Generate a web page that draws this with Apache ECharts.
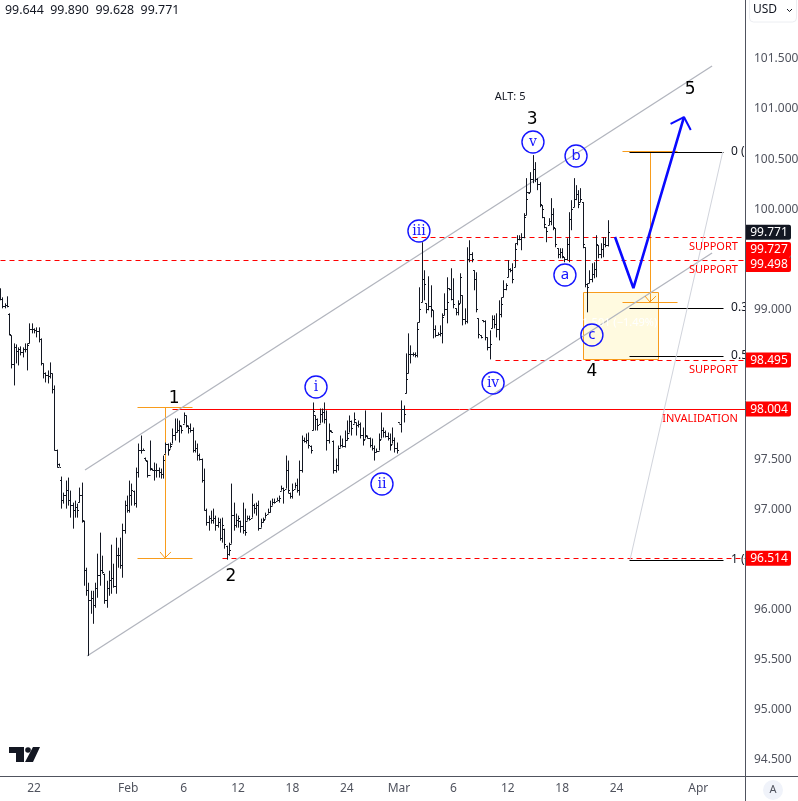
<!DOCTYPE html>
<html>
<head>
<meta charset="utf-8">
<title>DXY</title>
<script src="https://cdn.jsdelivr.net/npm/echarts@6/dist/echarts.min.js"></script>
<style>
html, body { margin: 0; padding: 0; background: #fff; }
#chart { width: 798px; height: 801px; }
</style>
</head>
<body>
<div id="chart"></div>
<script>
const FONT = '"Noto Sans", sans-serif';

// 4h bars
const barOpen = [
  99.18,99.10,99.03,99.04,98.95,98.74,98.45,98.62,98.58,98.60,
  98.57,98.60,98.60,98.66,98.80,98.80,98.79,98.78,98.70,98.46,
  98.36,98.34,98.33,98.36,98.20,97.60,97.46,97.30,97.10,97.15,
  97.20,97.10,97.05,97.00,97.03,97.08,97.15,96.89,96.40,96.20,
  96.10,96.12,96.05,96.22,96.35,96.40,96.36,96.10,96.22,96.30,
  96.32,96.24,96.55,96.55,96.45,96.80,97.05,97.00,97.15,97.19,
  97.07,97.38,97.60,97.60,97.52,97.49,97.35,97.41,97.40,97.40,
  97.40,97.38,97.36,97.56,97.66,97.61,97.66,97.75,97.78,97.80,
  97.84,97.86,97.94,97.84,97.82,97.80,97.60,97.62,97.55,97.51,
  97.30,97.00,96.88,96.92,96.90,96.92,96.85,96.88,96.72,96.81,
  96.64,96.56,96.66,96.95,96.85,96.90,96.89,96.84,96.80,96.89,
  96.92,96.92,97.05,97.02,97.05,96.82,96.88,96.91,96.96,96.98,
  97.04,97.08,97.09,97.10,97.19,97.22,97.21,97.40,97.17,97.14,
  97.21,97.25,97.20,97.40,97.70,97.69,97.70,97.64,97.80,97.94,
  97.90,97.86,97.95,97.97,97.90,97.70,97.79,97.69,97.40,97.45,
  97.62,97.65,97.64,97.70,97.77,97.88,97.86,97.87,97.85,97.86,
  97.75,97.71,97.74,97.72,97.65,97.62,97.58,97.59,97.71,97.80,
  97.78,97.74,97.72,97.66,97.70,97.62,97.87,97.86,98.00,98.16,
  98.36,98.55,98.55,98.55,98.54,98.87,99.07,99.30,99.06,99.00,
  99.03,98.99,98.80,98.74,98.75,98.76,98.94,99.00,99.21,99.20,
  99.10,99.01,98.97,99.06,99.14,98.90,98.88,99.50,99.55,99.39,
  99.30,98.91,98.74,98.89,98.88,98.72,98.62,98.81,98.90,98.85,
  98.80,98.95,99.12,99.20,99.32,99.40,99.39,99.42,99.66,99.70,
  99.70,99.72,99.94,100.17,100.17,100.30,100.40,100.30,100.25,100.04,
  99.92,99.82,99.84,99.88,99.95,99.81,99.61,99.55,99.57,99.52,
  99.50,99.65,99.90,100.02,100.10,100.15,100.07,100.07,99.62,99.25,
  99.26,99.30,99.35,99.40,99.64,99.55,99.60,99.65,99.644
];
const barHigh = [
  99.21,99.12,99.06,99.13,98.96,98.74,98.66,98.65,98.62,98.63,
  98.62,98.66,98.66,98.86,98.86,98.81,98.82,98.82,98.71,98.46,
  98.37,98.39,98.47,98.36,98.24,97.60,97.46,97.33,97.17,97.29,
  97.32,97.19,97.07,97.09,97.06,97.22,97.27,96.89,96.42,96.27,
  96.19,96.19,96.27,96.56,96.77,96.54,96.36,96.29,96.39,96.65,
  96.46,96.72,96.62,96.72,96.86,97.09,97.14,97.29,97.26,97.19,
  97.42,97.66,97.74,97.61,97.52,97.49,97.69,97.41,97.47,97.46,
  97.42,97.41,97.54,97.67,97.66,97.67,97.81,97.91,97.91,97.89,
  97.84,97.97,97.94,97.84,97.86,97.82,97.69,97.66,97.56,97.51,
  97.41,97.01,96.94,96.99,97.01,96.94,96.92,96.91,96.92,96.81,
  96.64,96.67,97.26,97.07,96.96,96.94,96.89,97.07,97.01,96.94,
  96.94,97.16,97.06,97.07,97.09,96.91,96.92,96.97,97.01,97.09,
  97.11,97.11,97.12,97.14,97.24,97.22,97.54,97.49,97.17,97.26,
  97.27,97.31,97.49,97.74,97.72,97.76,97.77,97.64,98.07,97.94,
  97.91,98.01,98.01,98.07,97.99,97.86,97.79,97.69,97.51,97.64,
  97.74,97.71,97.79,97.89,97.94,97.89,97.97,97.87,97.89,97.87,
  97.82,97.99,97.74,97.72,97.71,97.64,97.61,97.76,97.97,97.82,
  97.79,97.77,97.76,97.82,97.72,97.67,97.87,98.09,98.04,98.56,
  98.76,98.64,98.57,98.57,98.87,99.22,99.67,99.39,99.06,99.33,
  99.24,98.99,98.84,98.77,98.84,98.96,99.16,99.32,99.21,99.41,
  99.31,99.01,99.09,99.36,99.14,99.01,99.62,99.69,99.57,99.39,
  99.37,98.91,98.74,98.89,98.89,98.72,98.79,98.94,98.94,98.96,
  99.09,99.12,99.29,99.26,99.49,99.41,99.46,99.66,99.74,99.74,
  99.76,99.96,100.31,100.17,100.37,100.54,100.47,100.31,100.27,100.04,
  99.92,99.82,99.91,100.11,100.01,99.81,99.61,99.61,99.61,99.52,
  99.71,99.97,100.09,100.31,100.24,100.19,100.21,100.07,99.62,99.26,
  99.39,99.46,99.47,99.74,99.64,99.66,99.72,99.72,99.89
];
const barLow = [
  99.09,99.01,99.01,99.02,98.74,98.41,98.24,98.46,98.44,98.54,
  98.52,98.57,98.39,98.66,98.76,98.76,98.72,98.67,98.44,98.31,
  98.27,98.26,98.31,98.16,97.59,97.42,97.43,97.01,97.06,97.01,
  97.04,96.92,96.81,96.92,96.92,97.07,96.87,96.24,96.14,95.54,
  95.96,95.86,96.02,96.12,96.24,96.36,96.06,96.02,96.14,96.16,
  96.22,96.16,96.42,96.41,96.32,96.76,96.97,96.97,97.04,97.04,
  97.02,97.32,97.56,97.59,97.49,97.32,97.39,97.39,97.29,97.32,
  97.32,97.31,97.31,97.56,97.54,97.61,97.66,97.69,97.77,97.67,
  97.76,97.86,97.82,97.76,97.77,97.57,97.57,97.49,97.49,97.27,
  96.99,96.84,96.79,96.86,96.86,96.79,96.82,96.69,96.67,96.61,
  96.50,96.54,96.66,96.79,96.82,96.82,96.77,96.76,96.74,96.89,
  96.89,96.92,96.96,96.94,96.79,96.82,96.87,96.91,96.96,96.97,
  97.04,97.06,97.09,97.07,97.19,97.06,97.21,97.16,97.11,97.11,
  97.21,97.17,97.14,97.37,97.67,97.66,97.61,97.56,97.79,97.79,
  97.79,97.86,97.87,97.86,97.59,97.66,97.77,97.36,97.37,97.39,
  97.62,97.62,97.62,97.69,97.77,97.74,97.86,97.74,97.82,97.71,
  97.64,97.71,97.71,97.62,97.59,97.49,97.57,97.59,97.71,97.72,
  97.72,97.69,97.59,97.66,97.57,97.56,97.86,97.77,97.87,98.16,
  98.36,98.46,98.53,98.52,98.52,98.87,99.07,99.09,98.96,98.99,
  98.92,98.71,98.72,98.74,98.73,98.66,98.94,98.86,99.19,99.09,
  99.01,98.94,98.94,99.06,98.84,98.85,98.86,99.47,99.47,99.19,
  98.97,98.71,98.71,98.87,98.69,98.59,98.50,98.81,98.81,98.72,
  98.69,98.92,99.12,99.19,99.32,99.37,99.26,99.42,99.64,99.69,
  99.59,99.71,99.94,100.16,100.17,100.26,100.27,100.19,100.02,99.91,
  99.81,99.67,99.84,99.84,99.79,99.62,99.51,99.51,99.51,99.47,
  99.49,99.47,99.79,100.02,100.09,100.01,100.07,99.61,99.22,98.97,
  99.26,99.27,99.31,99.32,99.51,99.51,99.52,99.62,99.628
];
const barClose = [
  99.10,99.03,99.04,99.03,98.75,98.45,98.62,98.58,98.60,98.57,
  98.60,98.60,98.64,98.80,98.80,98.79,98.78,98.70,98.46,98.36,
  98.34,98.33,98.36,98.20,97.60,97.43,97.43,97.10,97.15,97.20,
  97.10,97.05,97.00,97.03,97.00,97.15,96.90,96.40,96.20,96.10,
  96.12,96.05,96.22,96.35,96.40,96.38,96.10,96.22,96.30,96.32,
  96.24,96.55,96.55,96.45,96.80,97.05,97.00,97.15,97.20,97.07,
  97.38,97.60,97.60,97.60,97.50,97.35,97.42,97.40,97.40,97.40,
  97.38,97.36,97.50,97.66,97.60,97.64,97.75,97.78,97.80,97.85,
  97.80,97.94,97.85,97.82,97.80,97.60,97.62,97.55,97.51,97.30,
  97.00,96.88,96.92,96.90,96.92,96.85,96.88,96.72,96.85,96.66,
  96.56,96.60,96.95,96.85,96.90,96.92,96.84,96.80,96.78,96.92,
  96.91,97.05,97.02,97.05,96.82,96.88,96.90,96.95,96.98,97.04,
  97.08,97.08,97.10,97.12,97.22,97.20,97.40,97.20,97.14,97.20,
  97.25,97.20,97.40,97.70,97.69,97.70,97.65,97.60,97.98,97.90,
  97.85,97.95,97.97,97.90,97.70,97.80,97.78,97.40,97.45,97.62,
  97.65,97.64,97.70,97.72,97.88,97.82,97.90,97.85,97.86,97.75,
  97.70,97.75,97.72,97.65,97.62,97.58,97.59,97.70,97.80,97.78,
  97.74,97.72,97.65,97.70,97.62,97.60,97.86,98.00,97.95,98.30,
  98.55,98.55,98.55,98.54,98.80,99.00,99.30,99.25,99.00,99.03,
  99.00,98.80,98.74,98.75,98.76,98.92,99.00,99.07,99.20,99.10,
  99.05,98.97,99.05,99.32,98.90,98.88,99.50,99.55,99.50,99.30,
  99.00,98.75,98.72,98.88,98.72,98.62,98.65,98.90,98.85,98.80,
  98.95,99.05,99.20,99.24,99.40,99.39,99.30,99.60,99.70,99.70,
  99.72,99.92,100.10,100.16,100.30,100.40,100.30,100.25,100.05,100.00,
  99.85,99.78,99.88,99.95,99.82,99.65,99.55,99.57,99.53,99.50,
  99.65,99.90,100.00,100.10,100.15,100.05,100.10,99.65,99.25,99.22,
  99.30,99.35,99.40,99.65,99.55,99.60,99.65,99.64,99.771
];

const xTickBars = [15, 56.5, 81, 105, 129, 153, 176, 200, 224, 248, 272, 308];
const xTickLabels = ['22', 'Feb', '6', '12', '18', '24', 'Mar', '6', '12', '18', '24', 'Apr'];
const yTicks = [94.5, 95, 95.5, 96, 96.5, 97, 97.5, 98, 98.5, 99, 99.5, 100, 100.5, 101, 101.5];
const X_MAX = 329.07;

// drawings, [bar number, price]
const channelUpper = [[37.5, 97.396], [314.1, 101.43]];
const channelLower = [[38.4, 95.538], [314.1, 99.563]];
const fibDiagonal = [[277.9, 96.497], [318.8, 100.571]];
const fibLevels = [100.571, 99.013, 98.534, 96.497];
const fibTexts = ['0 (100.571)', '0.382 (99.013)', '0.5 (98.534)', '1 (96.497)'];
const forecastPath = [[271.3, 99.722], [279.4, 99.213], [301.7, 100.92]];
const forecastHead = [[295.8, 100.851], [301.7, 100.92], [304.7, 100.791]];
// [x1, price1, x2, price2]
const measureLeft = [[60.4, 98.025, 84.7, 98.025], [72.8, 98.025, 72.8, 96.517], [60.4, 96.517, 84.7, 96.517]];
const measureLeftHead = [[70.6, 96.577], [72.8, 96.517], [75.4, 96.577]];
const measureRight = [[274.4, 100.581, 298.6, 100.581], [286.7, 100.581, 286.7, 99.073], [274.4, 99.073, 298.6, 99.073]];
const measureRightHead = [[284.5, 99.133], [286.7, 99.073], [289.4, 99.133]];
const supportBox = [257.2, 99.173, 290.3, 98.504];
const dashedLevels = [[181.7, 99.727], [0, 99.49], [218.4, 98.495], [98, 96.52]];
const invalidation = [75.9, 98.004];

const romanWaves = [['iii', 184.8, 99.782], ['v', 235.1, 100.671], ['iv', 217.5, 98.264], ['i', 139.4, 98.224], ['ii', 168.5, 97.256]];
const letterWaves = [['b', 254.1, 100.531], ['a', 249.2, 99.343], ['c', 261.1, 98.744]];
const mainWaves = [['1', 76.8, 98.105], ['2', 101.9, 96.327], ['3', 234.7, 100.891], ['4', 261.1, 98.374], ['5', 304.4, 101.19]];
const redNotes = [['SUPPORT', 99.62], ['SUPPORT', 99.393], ['SUPPORT', 98.394], ['INVALIDATION', 97.905]];

const tagValues = [99.771, 99.727, 99.498, 98.495, 98.004, 96.514];
const tagOffsets = [0, 13, 5, 0, 0, 0];
const tagColors = ['#131722', '#ff0000', '#ff0000', '#ff0000', '#ff0000', '#ff0000'];

const crisp = v => Math.round(v) + 0.5;

function lineSeries (data, color, width, z) {
  return {
    type: 'line',
    data,
    symbol: 'none',
    silent: true,
    z: z || 2,
    lineStyle: { color, width }
  };
}

function segmentSeries (segments, color, dash) {
  return {
    type: 'custom',
    silent: true,
    z: 2,
    data: segments,
    encode: { x: [0, 2], y: [1, 3] },
    renderItem: (params, api) => {
      const a = api.coord([api.value(0), api.value(1)]);
      const b = api.coord([api.value(2), api.value(3)]);
      return {
        type: 'line',
        shape: { x1: crisp(a[0]), y1: crisp(a[1]), x2: crisp(b[0]), y2: crisp(b[1]) },
        style: { stroke: color, lineWidth: 1, lineDash: dash || null, fill: null }
      };
    }
  };
}

function textSeries (rows, color, size, family, align) {
  return {
    type: 'scatter',
    symbolSize: 0,
    silent: true,
    z: 2,
    itemStyle: { opacity: 1 },
    data: rows.map(r => ({ name: r[0], value: [r[1], r[2]] })),
    label: {
      show: true,
      position: 'inside',
      align: align || 'center',
      verticalAlign: 'middle',
      formatter: '{b}',
      color,
      fontSize: size,
      fontFamily: family || FONT
    }
  };
}

function circleSeries (rows, family, size) {
  return {
    type: 'scatter',
    symbol: 'circle',
    symbolSize: 22,
    silent: true,
    z: 4,
    itemStyle: { color: 'rgba(255,255,255,0)', borderColor: '#1414ff', borderWidth: 1.4, opacity: 1 },
    data: rows.map(r => ({ name: r[0], value: [r[1], r[2]] })),
    label: {
      show: true,
      position: 'inside',
      formatter: '{b}',
      color: '#1414ff',
      fontSize: size,
      fontFamily: family
    }
  };
}

const renderBar = (params, api) => {
  const i = api.value(0);
  const x = crisp(api.coord([i, 0])[0]);
  const yo = crisp(api.coord([i, api.value(1)])[1]);
  const yh = api.coord([i, api.value(2)])[1];
  const yl = api.coord([i, api.value(3)])[1];
  const yc = crisp(api.coord([i, api.value(4)])[1]);
  const style = { stroke: '#131722', lineWidth: 1, fill: null };
  return {
    type: 'group',
    children: [
      { type: 'line', shape: { x1: x, y1: yh, x2: x, y2: yl }, style },
      { type: 'line', shape: { x1: x - 1.5, y1: yo, x2: x, y2: yo }, style },
      { type: 'line', shape: { x1: x, y1: yc, x2: x + 1.5, y2: yc }, style }
    ]
  };
};

const renderBox = (params, api) => {
  const a = api.coord([api.value(0), api.value(1)]);
  const b = api.coord([api.value(2), api.value(3)]);
  const x = crisp(a[0]);
  const y = crisp(a[1]);
  return {
    type: 'rect',
    shape: { x, y, width: crisp(b[0]) - x, height: crisp(b[1]) - y },
    style: { fill: '#fffae0', stroke: '#f89c1c', lineWidth: 1 }
  };
};

const renderTag = (params, api) => {
  const left = api.coord([X_MAX, 0])[0];
  const y = api.coord([0, api.value(1)])[1] + tagOffsets[params.dataIndex];
  return {
    type: 'group',
    children: [
      {
        type: 'rect',
        shape: { x: left, y: y - 7.5, width: 45, height: 15, r: [0, 2, 2, 0] },
        style: { fill: tagColors[params.dataIndex] }
      },
      {
        type: 'text',
        style: {
          x: left + 23, y: y + 0.5, text: api.value(1).toFixed(3), fill: '#fff',
          font: '12px ' + FONT, align: 'center', verticalAlign: 'middle'
        }
      }
    ]
  };
};

const series = [
  { type: 'custom', renderItem: renderBox, data: [supportBox], silent: true, z: 1, encode: { x: [0, 2], y: [1, 3] } },
  lineSeries(channelUpper, '#b2b5be', 1.3),
  lineSeries(channelLower, '#b2b5be', 1.3),
  lineSeries(fibDiagonal, '#d1d4dc', 1),
  segmentSeries(measureLeft, '#f89c1c'),
  lineSeries(measureLeftHead, '#f89c1c', 1),
  segmentSeries(measureRight, '#f89c1c'),
  lineSeries(measureRightHead, '#f89c1c', 1),
  segmentSeries([[invalidation[0], invalidation[1], X_MAX, invalidation[1]]], '#ff0000'),
  segmentSeries(dashedLevels.map(d => [d[0], d[1], X_MAX, d[1]]), '#ff0000', [5, 4]),
  segmentSeries(fibLevels.map(v => [277.5, v, 318.9, v]), '#000000')
];
series.push({
  type: 'custom',
  renderItem: renderBar,
  silent: true,
  z: 3,
  encode: { x: 0, y: [1, 2, 3, 4] },
  data: barOpen.map((o, i) => [i, o, barHigh[i], barLow[i], barClose[i]])
});
series.push(lineSeries(forecastPath, '#0a0aff', 2.6, 4));
series.push(lineSeries(forecastHead, '#0a0aff', 2, 4));
series.push(circleSeries(romanWaves, '"DejaVu Serif", serif', 14));
series.push(circleSeries(letterWaves, FONT, 15));
series.push(textSeries(mainWaves, '#000000', 17, '"DejaVu Sans", sans-serif'));
series.push(textSeries([['ALT: 5', 225, 101.12]], '#131722', 11));
series.push(textSeries(redNotes.map(r => [r[0], 325.5, r[1]]), '#ff0000', 11, FONT, 'right'));
series.push(textSeries(fibLevels.map((v, i) => [fibTexts[i], 322.5, v]), '#131722', 12, FONT, 'left'));
series.push(textSeries([['−1.501 (−1.49%)', 272, 98.86]], '#ffffff', 11));
series.push({
  type: 'custom',
  renderItem: renderTag,
  silent: true,
  z: 8,
  data: tagValues.map(v => [0, v])
});

const option = {
  animation: false,
  backgroundColor: '#fff',
  textStyle: { fontFamily: FONT },
  grid: { left: 0, right: 52, top: 0, bottom: 25, outerBoundsMode: 'none' },
  xAxis: {
    type: 'value',
    min: 0,
    max: X_MAX,
    splitLine: { show: false },
    axisLine: { show: false },
    axisTick: { show: false },
    axisLabel: {
      customValues: xTickBars,
      formatter: v => xTickLabels[xTickBars.indexOf(v)],
      color: '#50535e',
      fontSize: 12,
      margin: 7,
      fontFamily: FONT
    }
  },
  yAxis: {
    type: 'value',
    position: 'right',
    min: 94.34,
    max: 102.089,
    z: 6,
    splitLine: { show: false },
    axisLine: { show: false },
    axisTick: { show: false },
    axisLabel: {
      customValues: yTicks,
      formatter: v => v.toFixed(3),
      color: '#50535e',
      fontSize: 12,
      margin: 8,
      padding: [2, 0, 0, 0],
      fontFamily: FONT
    }
  },
  graphic: [
    { type: 'rect', z: 5, silent: true, shape: { x: 746, y: 0, width: 52, height: 801 }, style: { fill: '#fff' } },
    { type: 'line', z: 7, silent: true, shape: { x1: 0, y1: 776.5, x2: 798, y2: 776.5 }, style: { stroke: '#50535e', lineWidth: 1 } },
    { type: 'line', z: 7, silent: true, shape: { x1: 745.5, y1: 0, x2: 745.5, y2: 801 }, style: { stroke: '#50535e', lineWidth: 1 } },
    { type: 'text', z: 7, silent: true, style: { x: 5, y: 10, text: barOpen[268].toFixed(3) + '  ' + barHigh[268].toFixed(3) + '  ' + barLow[268].toFixed(3) + '  ' + barClose[268].toFixed(3), fill: '#131722', font: '12.4px ' + FONT, verticalAlign: 'middle' } },
    { type: 'rect', z: 7, silent: true, shape: { x: 749.5, y: -8, width: 47, height: 30, r: 4 }, style: { fill: '#fff', stroke: '#eceef2', lineWidth: 1 } },
    { type: 'text', z: 8, silent: true, style: { x: 753, y: 10, text: 'USD', fill: '#131722', font: '12px ' + FONT, verticalAlign: 'middle' } },
    { type: 'polyline', z: 8, silent: true, shape: { points: [[787, 9], [789.5, 11.5], [792, 9]] }, style: { stroke: '#131722', fill: null, lineWidth: 1 } },
    { type: 'circle', z: 7, silent: true, shape: { cx: 773, cy: 790, r: 10 }, style: { fill: '#f0f3fa' } },
    { type: 'text', z: 8, silent: true, style: { x: 773, y: 790, text: 'A', fill: '#50535e', font: '11px ' + FONT, align: 'center', verticalAlign: 'middle' } },
    { type: 'polygon', z: 7, silent: true, shape: { points: [[9, 747], [24, 747], [24, 762], [16, 762], [16, 753], [9, 753]] }, style: { fill: '#131722' } },
    { type: 'circle', z: 7, silent: true, shape: { cx: 28, cy: 750, r: 2.8 }, style: { fill: '#131722' } },
    { type: 'polygon', z: 7, silent: true, shape: { points: [[33, 747], [40, 747], [33, 762], [25, 762]] }, style: { fill: '#131722' } }
  ],
  series
};

const chart = echarts.init(document.getElementById('chart'));
chart.setOption(option);
</script>
</body>
</html>
